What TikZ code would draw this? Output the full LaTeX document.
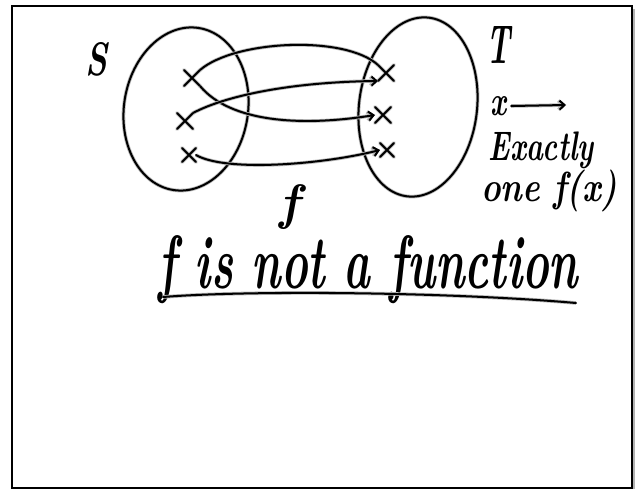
\documentclass[tikz,border=0pt]{standalone}
\usetikzlibrary{shapes.geometric,shapes.misc,arrows.meta}
\begin{document}
\begin{tikzpicture}[x=1pt,y=-1pt,
  ink/.style={draw=black,line width=2pt,line cap=round,line join=round,
              preaction={draw=gray!55,line width=3.6pt}},
  setshape/.style={ellipse,ink,inner sep=0pt},
  elem/.style={cross out,ink,minimum size=14pt,inner sep=0pt},
  hand/.style={inner sep=0pt,font=\bfseries\itshape},
  tip/.style={-{Straight Barb[length=5pt,width=9pt]}}
]
% canvas and frame
\fill[white] (0,0) rectangle (639,490);
\useasboundingbox (0,0) rectangle (639,490);
\draw[gray!60,line width=2.5pt] (634,9) -- (634,489);
\draw[black,line width=1.6pt] (12,6) rectangle (632,488);

% sets
\node[setshape,minimum width=124pt,minimum height=164pt,rotate=-9] (S) at (186,109) {};
\node[setshape,minimum width=118pt,minimum height=180pt,rotate=-7] (T) at (418,107) {};

% elements
\node[elem] (s1) at (192,78) {};
\node[elem] (s2) at (185,121) {};
\node[elem,minimum size=12pt] (s3) at (189,155) {};
\node[elem] (t1) at (386,73) {};
\node[elem] (t2) at (383,115) {};
\node[elem,minimum size=12pt] (t3) at (387,150) {};

% mapping f
\draw[ink] (s1.north east) .. controls (235,40) and (345,35) .. (t1.north west);
\draw[ink,tip] (s1.south east) .. controls (230,122) and (300,127) .. (t2.west);
\draw[ink,tip] (s2.north east) .. controls (225,96) and (290,82) .. (t1.south west);
\draw[ink,tip] (s3.east) .. controls (225,172) and (320,165) .. (t3.west);

% labels
\node[hand,anchor=base west] (lS) at (85,75) {\resizebox{22pt}{33pt}{S}};
\node[hand,anchor=base west] (lT) at (486,63) {\resizebox{24pt}{37pt}{T}};
\node[hand] (lf) at (289,207) {\resizebox*{20pt}{45pt}{f}};

\node[hand] (lx) at (498,106) {\resizebox{16pt}{19pt}{x}};
\coordinate (xa) at (566,105);
\draw[ink,tip] ([xshift=5pt]lx.east) -- (xa);
\node[hand] (lexact) at (541,150) {\resizebox*{105pt}{37pt}{Exactly}};
\node[hand] (lone) at (549,191) {\resizebox*{136pt}{42pt}{one f(x)}};

\node[hand,anchor=base west] (lnot) at (158,288) {\resizebox{420pt}{53pt}{f is not a function}};
\coordinate (u1) at (163,297);
\coordinate (u2) at (576,303);
\draw[ink] (u1) .. controls (250,290) and (450,292) .. (u2);
\end{tikzpicture}
\end{document}
